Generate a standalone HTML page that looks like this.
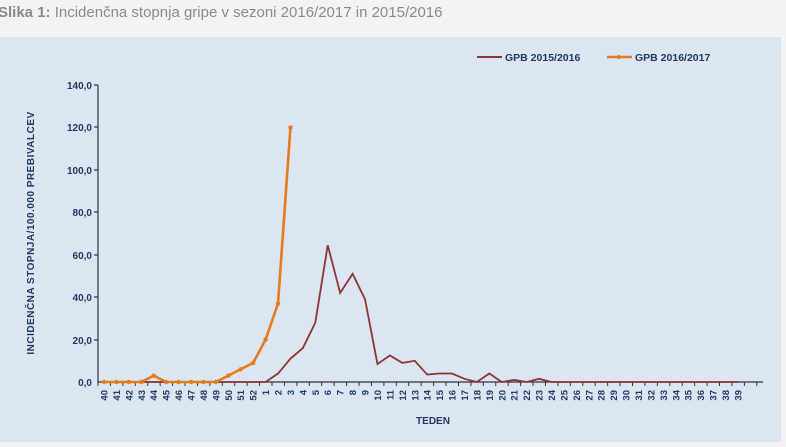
<!DOCTYPE html>
<html><head><meta charset="utf-8"><style>
body{margin:0;width:786px;height:442px;background:#f3f3f3;overflow:hidden;font-family:"Liberation Sans",sans-serif}
</style></head><body>
<svg width="786" height="442" xmlns="http://www.w3.org/2000/svg" font-family="Liberation Sans, sans-serif">
<text x="-2" y="17" font-size="15" fill="#8a8a8a" font-family="Liberation Sans Narrow, Liberation Sans, sans-serif"><tspan font-weight="bold">Slika 1:</tspan> Incidenčna stopnja gripe v sezoni 2016/2017 in 2015/2016</text>
<rect x="0" y="37" width="781" height="405" fill="#dce6f2"/>
<g font-size="10" font-weight="bold" fill="#1f3864" text-anchor="end">
<text x="92" y="89">140,0</text><text x="92" y="131">120,0</text><text x="92" y="174">100,0</text>
<text x="92" y="216">80,0</text><text x="92" y="259">60,0</text><text x="92" y="301">40,0</text>
<text x="92" y="344">20,0</text><text x="92" y="386">0,0</text>
</g>
<text transform="translate(34,233) rotate(-90)" font-size="10" font-weight="bold" fill="#1f3864" text-anchor="middle" letter-spacing="0.5">INCIDENČNA STOPNJA/100.000 PREBIVALCEV</text>
<text x="433" y="424" font-size="10" font-weight="bold" fill="#1f3864" text-anchor="middle">TEDEN</text>
<g stroke="#333" stroke-width="1.2">
<line x1="98" y1="85" x2="98" y2="383"/><line x1="94" y1="85" x2="98" y2="85"/>
<line x1="94" y1="127" x2="98" y2="127"/><line x1="94" y1="170" x2="98" y2="170"/>
<line x1="94" y1="212" x2="98" y2="212"/><line x1="94" y1="255" x2="98" y2="255"/>
<line x1="94" y1="297" x2="98" y2="297"/><line x1="94" y1="340" x2="98" y2="340"/>
<line x1="98" y1="382" x2="763" y2="382"/>
</g>
<g id="ticks" stroke="#333" stroke-width="1"></g>
<g id="labels" font-size="9.5" font-weight="bold" fill="#1f3864"></g>
<polyline id="s1" fill="none" stroke="#8b3535" stroke-width="1.8"/>
<polyline id="s2" fill="none" stroke="#e47c1e" stroke-width="2.6"/>
<g id="m2" fill="#e47c1e"></g>
<line x1="477" y1="57" x2="502" y2="57" stroke="#8b3535" stroke-width="2"/>
<text x="505" y="61" font-size="10.5" font-weight="bold" fill="#1f3864">GPB 2015/2016</text>
<line x1="607" y1="57" x2="632" y2="57" stroke="#e47c1e" stroke-width="2.6"/>
<circle cx="619" cy="57" r="2" fill="#e47c1e"/>
<text x="635" y="61" font-size="10.5" font-weight="bold" fill="#1f3864">GPB 2016/2017</text>
</svg>
<script>
var X=i=>104+12.43*i, Y=v=>382-v*2.121, ns="http://www.w3.org/2000/svg";
var t=document.getElementById('ticks'),l=document.getElementById('labels');
for(var i=0;i<=53;i++){var ln=document.createElementNS(ns,'line');var x=98+12.43*i;ln.setAttribute('x1',x);ln.setAttribute('x2',x);ln.setAttribute('y1',382);ln.setAttribute('y2',386);t.appendChild(ln);}
for(var i=0;i<52;i++){var w=i<13?40+i:i-12;var tx=document.createElementNS(ns,'text');tx.setAttribute('transform','translate('+(X(i)+3.5)+',390) rotate(-90)');tx.setAttribute('text-anchor','end');tx.textContent=w;l.appendChild(tx);}
var d1=[0,4,11,16,28,64.5,42,51,39,8.5,12.5,9,10,3.5,4,4,1.5,0,4,0,1,0,1.5,0];
var p1=[];for(var i=0;i<52;i++){var v=i<13?0:(i-13<d1.length?d1[i-13]:0);p1.push(X(i)+','+Y(v));}
document.getElementById('s1').setAttribute('points',p1.join(' '));
var d2=[0,0,0,0,3,0,0,0,0,0,3,6,9,20,37,120];
var p2=[],m=document.getElementById('m2');
d2.forEach((v,i)=>{p2.push(X(i)+','+Y(v));var c=document.createElementNS(ns,'circle');c.setAttribute('cx',X(i));c.setAttribute('cy',Y(v));c.setAttribute('r',2.2);m.appendChild(c);});
document.getElementById('s2').setAttribute('points',p2.join(' '));
</script>
</body></html>
